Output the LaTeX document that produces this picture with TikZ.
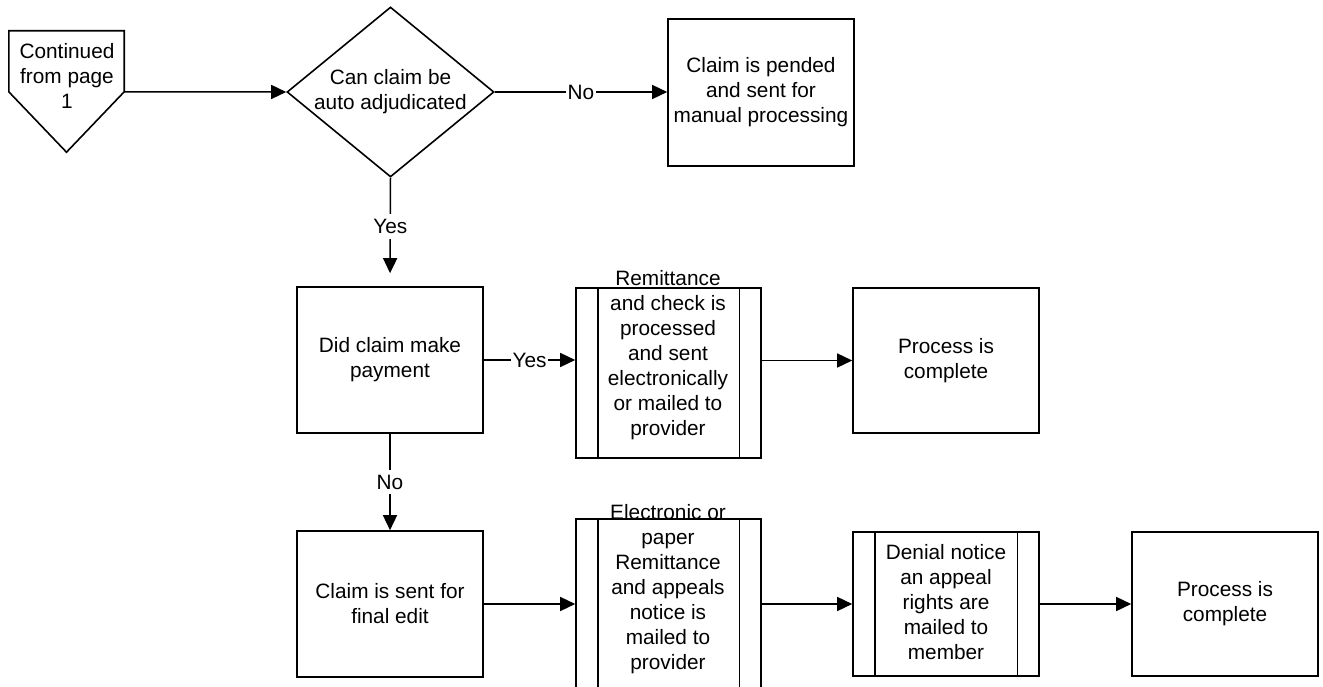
\documentclass[tikz,border=0pt]{standalone}
\usepackage{fontspec}
\setmainfont{Liberation Sans}
\usetikzlibrary{shapes.geometric,arrows.meta,calc}
\begin{document}
\begin{tikzpicture}[x=1pt,y=-1pt,
  every node/.style={font=\fontsize{20.8}{25}\selectfont, align=center, inner sep=0pt},
  outline/.style={draw, line width=1.6pt},
  procbox/.style={outline, rectangle, minimum width=186pt, minimum height=146pt},
  subproc/.style={outline, rectangle, minimum width=185pt, minimum height=170pt},
  decision/.style={outline, diamond, minimum width=207pt, minimum height=170pt},
  flow/.style={line width=1.5pt, -{Triangle[length=15pt,width=14pt]}},
  cond/.style={fill=white, inner xsep=2pt, inner ysep=5pt}
]
\clip (0,0) rectangle (1323,687);

% off-page connector
\node (cont) at (66.5,91.5) [minimum width=115pt, minimum height=121pt] {};
\draw[outline, line join=miter] (cont.north west) -- (cont.north east)
  -- ($(cont.north east)+(0,61)$) -- (cont.south) -- ($(cont.north west)+(0,61)$) -- cycle;
\node (conttxt) at (67,76) {Continued\\from page\\1};
\coordinate (contout) at ($(cont.north east)+(0,61)$);

% decision: auto adjudication
\node[decision] (adj) at (390.5,92) {};
\node (adjtxt) at (390.5,92) {Can claim be\\auto adjudicated};

% manual processing
\node[procbox, minimum height=147pt] (pend) at (761,92.5)
  {Claim is pended\\and sent for\\manual processing};

% payment question
\node[procbox] (pay) at (390,360) {Did claim make\\payment};

% remittance (predefined process)
\node[subproc] (rem) at (668.5,373) {};
\draw[outline] ($(rem.north west)+(22.5,0)$) -- ($(rem.south west)+(22.5,0)$);
\draw[outline] ($(rem.north east)+(-22.5,0)$) -- ($(rem.south east)+(-22.5,0)$);
\node (remtxt) at (668,355) {Remittance\\and check is\\processed\\and sent\\electronically\\or mailed to\\provider};

\node[procbox, minimum height=145pt] (doneA) at (946,360.5) {Process is\\complete};

% final edit branch
\node[procbox] (edit) at (390,604) {Claim is sent for\\final edit};

\node[subproc] (appeal) at (668.5,604) {};
\draw[outline] ($(appeal.north west)+(22.5,0)$) -- ($(appeal.south west)+(22.5,0)$);
\draw[outline] ($(appeal.north east)+(-22.5,0)$) -- ($(appeal.south east)+(-22.5,0)$);
\node (appealtxt) at (668,589) {Electronic or\\paper\\Remittance\\and appeals\\notice is\\mailed to\\provider};

\node[outline, rectangle, minimum width=186pt, minimum height=144pt] (deny) at (946,604) {};
\draw[outline] ($(deny.north west)+(22.5,0)$) -- ($(deny.south west)+(22.5,0)$);
\draw[outline] ($(deny.north east)+(-22.5,0)$) -- ($(deny.south east)+(-22.5,0)$);
\node (denytxt) at (946,602) {Denial notice\\an appeal\\rights are\\mailed to\\member};

\node[procbox, minimum height=144pt] (doneB) at (1225,604) {Process is\\complete};

% connectors
\draw[flow] (contout) -- (adj.west);
\draw[flow] (adj.east) -- node[cond] {No} (adj.east -| pend.west);
\draw[flow, shorten >=13pt] (adj.south) -- node[cond, pos=0.45] {Yes} (pay.north);
\draw[flow] (pay.east) -- node[cond] {Yes} (pay.east -| rem.west);
\draw[flow] (pay.south) -- node[cond] {No} (edit.north);
\draw[flow] (rem.east |- doneA.west) -- (doneA.west);
\draw[flow] (edit.east) -- (edit.east -| appeal.west);
\draw[flow] (appeal.east |- deny.west) -- (deny.west);
\draw[flow] (deny.east) -- (doneB.west);
\end{tikzpicture}
\end{document}
